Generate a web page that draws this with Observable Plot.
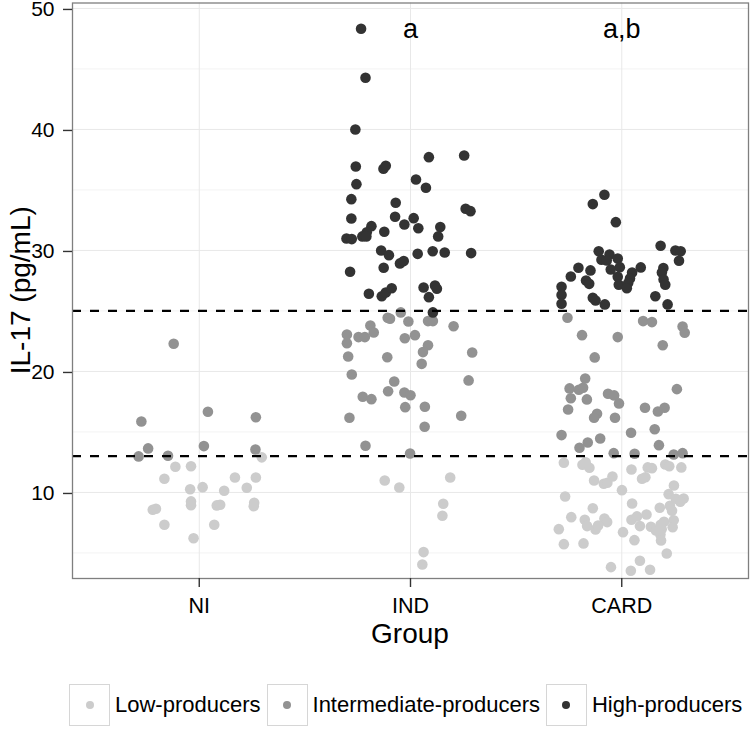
<!DOCTYPE html>
<html>
<head>
<meta charset="utf-8">
<script src="https://cdn.jsdelivr.net/npm/d3@7"></script>
<script src="https://cdn.jsdelivr.net/npm/@observablehq/plot@0.6"></script>
<style>
  html, body { margin: 0; padding: 0; background: #fff; }
  #chart { width: 752px; }
  .legend { display: flex; align-items: center; height: 49px; padding-left: 69px; box-sizing: border-box;
            font-family: "Liberation Sans", Arial, sans-serif; font-size: 22px; color: #000; }
  .legend .item { display: flex; align-items: center; margin-right: 6px; }
  .legend .key { width: 41px; height: 42px; border: 1.5px solid #d6d6d6; box-sizing: border-box;
                 display: flex; align-items: center; justify-content: center; margin-right: 5px; }
  .legend .key span { width: 8px; height: 8px; border-radius: 50%; display: block; }
</style>
</head>
<body>
<div id="chart"></div>
<script>
// ---- data ----
const groups = ["NI", "IND", "CARD"];
const classes = ["Low-producers", "Intermediate-producers", "High-producers"];
const classColors = ["#cccccc", "#929292", "#333333"];
const thresholds = [13, 25];
const yTicks = [10, 20, 30, 40, 50];
const yMinorTicks = [5, 15, 25, 35, 45];
const letterGroups = ["IND", "CARD"];
const letterLabels = ["a", "a,b"];
const letterValue = 48.3;
const yLabel = "IL-17 (pg/mL)";
const xLabel = "Group";

// [jitter, IL-17 value]
const NI_low = [[0.296,12.9],[-0.113,12.12],[-0.039,12.17],[-0.165,11.13],[0.169,11.24],[0.268,11.24],[-0.043,10.27],[0.016,10.44],[0.118,10.14],[0.225,10.39],[-0.22,8.57],[-0.205,8.65],[-0.039,9.26],[-0.039,8.95],[0.083,8.93],[0.099,8.98],[0.26,9.15],[0.258,8.87],[-0.165,7.33],[0.071,7.33],[-0.027,6.22]];
const NI_int = [[-0.121,22.29],[0.041,16.67],[-0.274,15.87],[0.268,16.22],[-0.242,13.64],[0.022,13.83],[0.266,13.55],[-0.287,12.98],[-0.148,13.03]];
const NI_high = [];

const IND_low = [[0.188,11.24],[-0.122,10.99],[-0.053,10.41],[0.155,9.07],[0.151,8.07],[0.062,5.07],[0.056,4.05]];
const IND_int = [[-0.046,24.88],[-0.108,24.44],[-0.097,24.35],[-0.01,24.13],[0.083,24.16],[0.106,24.16],[0.204,23.74],[-0.19,23.8],[-0.174,23.22],[-0.301,23.06],[-0.301,22.34],[-0.246,22.84],[-0.216,22.84],[-0.027,22.75],[0.021,23.0],[0.083,22.17],[0.059,21.6],[-0.295,21.24],[-0.11,21.18],[0.292,21.57],[0.053,20.63],[-0.278,19.75],[0.275,19.26],[-0.077,19.17],[-0.106,18.37],[-0.029,18.26],[0,18.04],[-0.226,17.91],[-0.185,17.71],[-0.025,17.05],[0.068,17.08],[-0.289,16.17],[0.24,16.34],[0.067,15.43],[-0.213,13.86],[-0.002,13.22]];
const IND_high = [[-0.234,48.32],[-0.213,44.27],[-0.261,40.0],[0.087,37.71],[0.254,37.85],[-0.259,36.94],[-0.128,36.75],[-0.117,37.0],[0.026,35.87],[-0.256,35.48],[0.073,35.18],[-0.28,34.24],[-0.07,33.94],[0.261,33.45],[0.284,33.25],[-0.28,32.64],[-0.073,32.78],[0.015,32.67],[-0.029,32.15],[-0.185,32.01],[0.037,31.84],[0.141,31.93],[-0.124,31.54],[-0.207,31.51],[-0.228,31.16],[-0.209,31.16],[-0.303,30.99],[-0.278,30.94],[0.131,31.16],[-0.139,30.0],[-0.102,29.61],[0.034,29.72],[0.105,29.94],[0.162,29.83],[0.287,29.78],[-0.05,28.93],[-0.032,29.12],[-0.286,28.24],[-0.127,28.57],[-0.197,26.42],[-0.136,26.22],[-0.117,26.53],[-0.089,26.88],[0.062,26.94],[0.116,27.11],[0.125,26.83],[0.087,26.14],[0.106,24.88]];

const CARD_low = [[-0.274,12.45],[-0.186,12.29],[-0.171,12.5],[-0.153,12.04],[-0.131,10.99],[-0.085,10.72],[-0.068,10.8],[-0.044,11.32],[0.046,11.9],[0.096,11.13],[0.112,11.26],[0.123,12.07],[0.143,12.01],[0.206,12.31],[0.225,12.17],[0.282,12.07],[0.001,10.19],[0.247,10.58],[-0.268,9.67],[0.222,9.86],[0.256,9.48],[0.293,9.5],[0.277,9.23],[0.049,9.09],[-0.137,8.7],[0.18,8.74],[0.228,8.9],[0.238,8.49],[-0.239,7.96],[-0.175,7.74],[-0.082,7.85],[-0.069,7.55],[-0.164,7.22],[-0.124,6.94],[-0.112,7.27],[0.046,7.74],[0.072,8.02],[0.117,8.18],[0.086,7.22],[0.138,7.17],[0.162,6.86],[0.189,6.97],[0.2,7.58],[0.184,7.33],[0.246,7.71],[0.241,7.13],[0.183,6.53],[0.186,6.03],[-0.298,6.97],[0.006,6.72],[0.06,6.06],[-0.274,5.73],[-0.181,5.79],[0.213,4.96],[0.086,4.36],[-0.051,3.83],[0.043,3.53],[0.134,3.61]];
const CARD_int = [[-0.257,24.44],[0.101,24.16],[0.143,24.08],[0.288,23.72],[0.298,23.2],[-0.188,23.0],[-0.019,22.84],[0.194,22.17],[-0.128,21.16],[-0.173,19.42],[-0.247,18.6],[-0.203,18.49],[-0.183,18.65],[-0.241,17.79],[-0.165,17.69],[-0.065,18.16],[-0.036,18.02],[-0.013,17.36],[0.261,18.54],[-0.254,16.86],[-0.117,16.5],[-0.131,16.17],[-0.032,16.17],[0.11,17.0],[0.171,16.69],[0.203,17.0],[0.156,15.23],[0.044,14.93],[-0.285,14.74],[-0.102,14.46],[-0.161,14.13],[-0.2,13.69],[0.176,13.91],[-0.038,13.25],[0.061,13.2],[0.246,13.14],[0.288,13.25]];
const CARD_high = [[-0.082,34.6],[-0.137,33.83],[-0.028,32.34],[0.184,30.39],[0.254,30.0],[0.279,29.94],[0.271,29.15],[-0.109,29.94],[-0.058,29.67],[-0.096,29.23],[-0.071,29.17],[-0.019,29.34],[-0.009,28.62],[-0.052,28.43],[-0.205,28.57],[-0.148,28.35],[0.09,28.6],[0.049,28.18],[-0.241,27.85],[-0.019,27.83],[0.197,28.54],[0.19,28.18],[-0.169,27.52],[-0.154,27.24],[-0.014,27.16],[0.039,27.69],[0.03,27.3],[0.024,26.88],[0.198,27.6],[0.206,27.16],[-0.285,27.0],[-0.285,26.31],[-0.285,25.6],[-0.137,26.09],[-0.124,25.87],[-0.08,25.54],[0.159,26.22],[0.217,25.54]];

// ---- build table ----
const series = [
  ["NI", 0, NI_low], ["NI", 1, NI_int], ["NI", 2, NI_high],
  ["IND", 0, IND_low], ["IND", 1, IND_int], ["IND", 2, IND_high],
  ["CARD", 0, CARD_low], ["CARD", 1, CARD_int], ["CARD", 2, CARD_high]
];
const rows = [];
for (const c of [0, 1, 2]) {
  for (const [g, ci, arr] of series) {
    if (ci !== c) continue;
    for (const [j, v] of arr) rows.push({group: g, cls: classes[ci], pos: groups.indexOf(g) + 1 + j, value: v});
  }
}
const letters = letterGroups.map((g, i) => ({pos: groups.indexOf(g) + 1, value: letterValue, text: letterLabels[i]}));

const W = 752, H = 680, mL = 72, mR = 4, mT = 2.5, mB = 102;

const chart = Plot.plot({
  width: W, height: H,
  marginLeft: mL, marginRight: mR, marginTop: mT, marginBottom: mB,
  style: {fontFamily: "'Liberation Sans', Arial, sans-serif", fontSize: "21px", color: "#000", background: "#fff", overflow: "visible"},
  x: {domain: [0.4, 3.6], label: null},
  y: {domain: [2.89, 50.45], label: null},
  color: {domain: classes, range: classColors},
  marks: [
    Plot.gridY(yMinorTicks, {stroke: "#f3f3f3", strokeOpacity: 1, strokeWidth: 1}),
    Plot.gridY(yTicks, {stroke: "#e8e8e8", strokeOpacity: 1, strokeWidth: 1}),
    Plot.gridX([1, 2, 3], {stroke: "#e8e8e8", strokeOpacity: 1, strokeWidth: 1}),
    Plot.dot(rows, {x: "pos", y: "value", fill: "cls", r: 5.3}),
    Plot.ruleY(thresholds, {stroke: "#000", strokeWidth: 2.3, strokeDasharray: "9,9"}),
    Plot.text(letters, {x: "pos", y: "value", text: "text", fontSize: 27, fill: "#000"}),
    Plot.frame({stroke: "#7f7f7f", strokeWidth: 1.3}),
    Plot.axisY(yTicks, {tickSize: 9, tickPadding: 9, label: null, fontSize: 21, stroke: "#333", strokeWidth: 1.4, dy: 1}),
    Plot.axisX([1, 2, 3], {tickSize: 9, tickPadding: 10, label: null, fontSize: 21.5, stroke: "#333", strokeWidth: 1.4,
                           tickFormat: d => groups[d - 1]})
  ]
});

const svg = d3.select(chart);
svg.append("text").text(xLabel)
  .attr("x", (mL + W - mR) / 2).attr("y", 643)
  .attr("text-anchor", "middle").attr("font-size", 28).attr("fill", "#000");
svg.append("text").text(yLabel)
  .attr("transform", `translate(30,${(mT + H - mB) / 2}) rotate(-90)`)
  .attr("text-anchor", "middle").attr("font-size", 28).attr("fill", "#000");

document.getElementById("chart").appendChild(chart);

// legend
const legend = document.createElement("div");
legend.className = "legend";
classes.forEach((c, i) => {
  const item = document.createElement("div");
  item.className = "item";
  const key = document.createElement("div");
  key.className = "key";
  const dot = document.createElement("span");
  dot.style.background = classColors[i];
  key.appendChild(dot);
  const label = document.createElement("span");
  label.textContent = c;
  item.appendChild(key);
  item.appendChild(label);
  legend.appendChild(item);
});
document.getElementById("chart").appendChild(legend);
</script>
</body>
</html>
